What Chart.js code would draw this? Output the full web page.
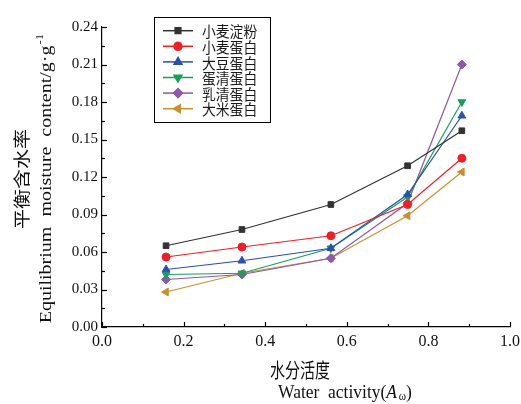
<!DOCTYPE html>
<html>
<head>
<meta charset="utf-8">
<script src="https://cdn.jsdelivr.net/npm/chart.js@4.4.1/dist/chart.umd.min.js"></script>
<style>
html,body{margin:0;padding:0;background:#fff;}
#wrap{width:521px;height:404px;position:relative;}
</style>
</head>
<body>
<div id="wrap"><canvas id="c" width="521" height="404"></canvas></div>
<script>
// ---- data ----
const waterActivity = [0.157, 0.343, 0.561, 0.749, 0.882];
const seriesNames = ["小麦淀粉", "小麦蛋白", "大豆蛋白", "蛋清蛋白", "乳清蛋白", "大米蛋白"];
const wheatStarch  = [0.065, 0.078, 0.098, 0.129, 0.157];
const wheatProtein = [0.056, 0.064, 0.073, 0.098, 0.135];
const soyProtein   = [0.046, 0.053, 0.063, 0.106, 0.169];
const eggWhite     = [0.042, 0.043, 0.063, 0.104, 0.180];
const wheyProtein  = [0.038, 0.042, 0.055, 0.099, 0.210];
const riceProtein  = [0.028, 0.043, 0.055, 0.089, 0.124];
const xTicks = [0, 0.2, 0.4, 0.6, 0.8, 1.0];
const yTicks = [0, 0.03, 0.06, 0.09, 0.12, 0.15, 0.18, 0.21, 0.24];

const values = [wheatStarch, wheatProtein, soyProtein, eggWhite, wheyProtein, riceProtein];
const colors = ["#333333", "#ee1f26", "#2a4fae", "#17a05a", "#8d58ab", "#c8902e"];
const styles = ["rect", "circle", "triangle", "triangle", "rectRot", "triangle"];
const rotations = [0, 0, 0, 180, 0, 270];
const radii = [4, 4, 4.5, 4.5, 4.5, 4.5];

const datasets = values.map((v, i) => ({
  label: seriesNames[i],
  data: v.map((y, j) => ({x: waterActivity[j], y: y})),
  borderColor: colors[i],
  backgroundColor: colors[i],
  pointStyle: styles[i],
  pointRotation: rotations[i],
  pointRadius: radii[i],
  pointBorderWidth: 1,
  borderWidth: 1.2,
  tension: 0
}));

const serif = "'Liberation Serif', 'DejaVu Serif', serif";
const cjk = "'Noto Sans CJK SC', sans-serif";

const decor = {
  id: 'decor',
  afterDraw(chart) {
    const ctx = chart.ctx;
    const xs = chart.scales.x, ys = chart.scales.y;
    const a = chart.chartArea;
    ctx.save();
    ctx.strokeStyle = '#000';
    ctx.lineWidth = 1.2;
    // major ticks inward
    xTicks.forEach(t => {
      const px = Math.round(xs.getPixelForValue(t)) + 0.5;
      ctx.beginPath(); ctx.moveTo(px, a.bottom); ctx.lineTo(px, a.bottom - 5); ctx.stroke();
    });
    yTicks.forEach(t => {
      const py = Math.round(ys.getPixelForValue(t)) + 0.5;
      ctx.beginPath(); ctx.moveTo(a.left, py); ctx.lineTo(a.left + 5, py); ctx.stroke();
    });
    // minor ticks
    for (let i = 0; i < xTicks.length - 1; i++) {
      const px = Math.round(xs.getPixelForValue((xTicks[i] + xTicks[i + 1]) / 2)) + 0.5;
      ctx.beginPath(); ctx.moveTo(px, a.bottom); ctx.lineTo(px, a.bottom - 3); ctx.stroke();
    }
    for (let i = 0; i < yTicks.length - 1; i++) {
      const py = Math.round(ys.getPixelForValue((yTicks[i] + yTicks[i + 1]) / 2)) + 0.5;
      ctx.beginPath(); ctx.moveTo(a.left, py); ctx.lineTo(a.left + 3, py); ctx.stroke();
    }

    ctx.fillStyle = '#111';
    ctx.textBaseline = 'middle';
    // Y titles (rotated)
    ctx.save();
    ctx.translate(22, 179);
    ctx.rotate(-Math.PI / 2);
    ctx.scale(1, 0.85);
    ctx.font = "20px " + cjk;
    ctx.textAlign = 'center';
    ctx.fillText("平衡含水率", 0, 0);
    ctx.restore();

    ctx.save();
    ctx.translate(47, 179);
    ctx.rotate(-Math.PI / 2);
    ctx.scale(1, 0.85);
    ctx.font = "20px " + serif;
    ctx.textAlign = 'left';
    const main = "Equilibrium  moisture  content/g·g";
    const wMain = ctx.measureText(main).width;
    ctx.font = "13px " + serif;
    const wSup = ctx.measureText("-1").width;
    const start = -(wMain + wSup) / 2;
    ctx.font = "20px " + serif;
    ctx.fillText(main, start, 0);
    ctx.font = "13px " + serif;
    ctx.fillText("-1", start + wMain + 1, -8);
    ctx.restore();

    // X titles
    ctx.save();
    ctx.translate(300, 370);
    ctx.scale(0.75, 1);
    ctx.font = "20px " + cjk;
    ctx.textAlign = 'center';
    ctx.fillText("水分活度", 0, 0);
    ctx.restore();

    ctx.save();
    ctx.translate(345, 393);
    ctx.scale(0.92, 1);
    ctx.textAlign = 'left';
    ctx.font = "19px " + serif;
    const p1 = "Water  activity(";
    const w1 = ctx.measureText(p1).width;
    ctx.font = "italic 19px " + serif;
    const w2 = ctx.measureText("A").width;
    ctx.font = "12px " + serif;
    const w3 = ctx.measureText("ω").width;
    ctx.font = "19px " + serif;
    const w4 = ctx.measureText(")").width;
    const tot = w1 + w2 + 2 + w3 + w4;
    let x0 = -tot / 2;
    ctx.fillText(p1, x0, 0); x0 += w1;
    ctx.font = "italic 19px " + serif;
    ctx.fillText("A", x0, 0); x0 += w2 + 2;
    ctx.font = "12px " + serif;
    ctx.fillText("ω", x0, 4); x0 += w3;
    ctx.font = "19px " + serif;
    ctx.fillText(")", x0, 0);
    ctx.restore();

    // Legend
    ctx.lineWidth = 1;
    ctx.strokeStyle = '#000';
    ctx.strokeRect(154.5, 17.5, 116, 105);
    chart.data.datasets.forEach((ds, i) => {
      const y = 30.7 + i * 15.6;
      ctx.strokeStyle = ds.borderColor;
      ctx.lineWidth = 1.5;
      ctx.beginPath(); ctx.moveTo(163, y); ctx.lineTo(193, y); ctx.stroke();
      ctx.fillStyle = ds.backgroundColor;
      Chart.helpers.drawPoint(ctx, {pointStyle: ds.pointStyle, rotation: ds.pointRotation, radius: ds.pointRadius, borderWidth: 1}, 178, y);
      ctx.fillStyle = '#1a1a1a';
      ctx.save();
      ctx.translate(202, y);
      ctx.scale(0.92, 1);
      ctx.font = "15px " + cjk;
      ctx.textAlign = 'left';
      ctx.textBaseline = 'middle';
      ctx.fillText(ds.label, 0, 1);
      ctx.restore();
    });
    ctx.restore();
  }
};

new Chart(document.getElementById('c'), {
  type: 'line',
  data: { datasets },
  options: {
    responsive: false,
    animation: false,
    layout: { padding: { top: 27, right: 11, left: 0, bottom: 0 } },
    plugins: { legend: { display: false }, tooltip: { enabled: false } },
    scales: {
      x: {
        type: 'linear', min: 0, max: 1,
        afterBuildTicks: s => { s.ticks = xTicks.map(v => ({value: v})); },
        ticks: { font: { family: serif, size: 16 }, color: '#111', padding: 5, maxRotation: 0,
                 callback: v => Number(v).toFixed(1) },
        grid: { display: false, drawTicks: false },
        border: { display: true, color: '#000', width: 1.2 },
        afterFit: s => { s.height = 77; s.paddingRight = 0; s.paddingLeft = 0; }
      },
      y: {
        type: 'linear', min: 0, max: 0.24,
        afterBuildTicks: s => { s.ticks = yTicks.map(v => ({value: v})); },
        ticks: { font: { family: serif, size: 15 }, color: '#111', padding: 4,
                 callback: v => Number(v).toFixed(2) },
        grid: { display: false, drawTicks: false },
        border: { display: true, color: '#000', width: 1.2 },
        afterFit: s => { s.width = 102; s.paddingTop = 0; s.paddingBottom = 0; }
      }
    }
  },
  plugins: [decor]
});
</script>
</body>
</html>
